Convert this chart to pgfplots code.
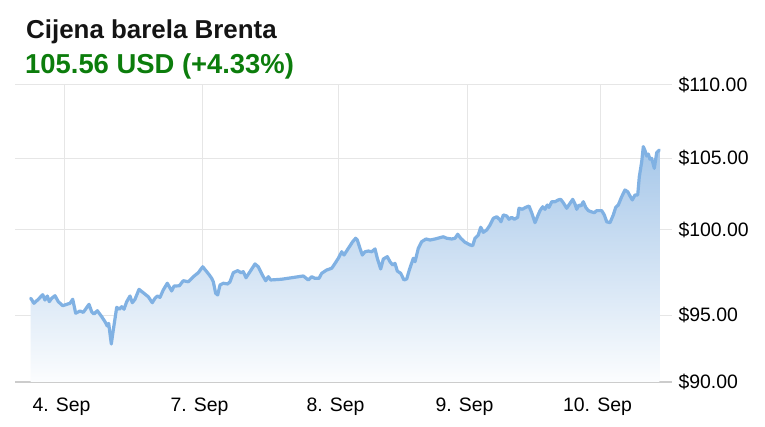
\documentclass[border=0pt]{standalone}
\usepackage{fontspec}
\setmainfont{Liberation Sans}
\usepackage{pgfplots}
\usepackage{pgfplotstable}
\pgfplotsset{compat=1.18}

\definecolor{lineblue}{RGB}{128,177,227}
\definecolor{areatop}{RGB}{166,199,233}
\definecolor{gridgray}{RGB}{230,230,230}
\definecolor{basegray}{RGB}{204,204,204}
\definecolor{pricegreen}{RGB}{12,125,12}

% x: position along the time axis, y: price (USD)
\pgfplotstableread{
x y
30.7 95.64
34.0 95.30
38.3 95.57
42.7 95.88
45.0 95.52
47.3 95.79
49.3 95.41
51.7 95.64
55.0 95.81
58.3 95.41
62.7 95.14
66.7 95.23
70.0 95.30
72.7 95.57
75.7 94.63
80.0 94.78
83.3 94.69
89.0 95.23
91.7 94.73
94.0 94.58
97.3 94.80
101.7 94.40
105.0 94.06
107.3 93.77
108.7 93.95
111.3 92.56
113.3 93.50
116.7 95.03
119.3 94.90
121.7 95.07
124.0 94.90
126.7 95.41
130.0 95.79
132.3 95.34
135.0 95.57
139.0 96.24
143.3 96.01
148.3 95.74
152.3 95.34
155.0 95.64
157.3 95.79
160.0 95.70
163.3 96.20
167.3 96.65
171.7 96.13
174.0 96.46
179.3 96.48
183.3 96.82
188.3 96.75
193.3 97.09
198.3 97.36
202.7 97.76
206.7 97.43
209.3 97.21
211.7 96.98
213.3 96.75
215.7 95.97
217.7 95.86
220.0 96.53
223.3 96.65
227.7 96.60
230.0 96.75
233.3 97.36
237.7 97.50
241.0 97.36
243.3 97.43
246.0 97.02
250.0 97.43
255.0 97.95
258.3 97.76
262.3 97.21
265.7 96.82
268.3 97.09
270.7 96.87
281.7 96.92
303.3 97.14
308.3 96.87
311.7 97.09
315.0 96.98
319.0 96.98
321.7 97.32
326.7 97.54
331.7 97.66
334.0 97.88
338.3 98.33
341.7 98.77
344.0 98.55
348.3 99.00
352.7 99.45
355.7 99.68
357.3 99.56
360.0 99.00
362.3 98.55
365.0 98.77
368.3 98.82
371.7 98.77
375.0 98.96
377.3 98.33
380.7 97.61
383.3 98.28
387.3 98.44
390.0 98.10
392.7 97.88
395.0 97.99
397.3 97.47
400.7 97.32
404.0 96.87
406.7 96.94
409.3 97.54
411.0 97.88
413.3 98.33
415.0 98.10
418.3 99.00
421.7 99.45
426.0 99.63
430.0 99.56
435.0 99.63
440.0 99.72
443.3 99.78
446.7 99.68
451.7 99.63
455.0 99.68
457.7 99.95
460.7 99.68
465.0 99.41
470.0 99.23
472.7 99.18
475.0 99.68
478.3 99.90
480.7 100.42
483.3 100.08
486.7 100.24
490.0 100.57
493.3 101.02
496.7 101.13
500.0 100.91
501.0 100.79
503.3 101.25
506.7 101.18
509.0 100.96
511.7 101.09
514.3 100.96
517.7 101.09
519.0 101.70
522.3 101.63
525.7 101.76
529.0 101.85
531.7 101.40
535.0 100.73
537.7 101.18
540.0 101.54
542.7 101.80
545.0 101.63
547.3 101.92
549.0 101.76
551.7 102.14
555.0 102.14
558.3 102.26
560.7 102.30
563.3 102.07
566.7 101.70
570.0 102.03
572.7 102.30
575.0 101.99
576.7 101.63
579.0 101.92
581.0 101.85
583.3 102.14
585.7 101.76
588.3 101.54
591.0 101.47
594.3 101.40
596.7 101.54
601.7 101.54
604.3 101.25
606.7 100.79
610.0 100.73
613.3 101.25
615.7 101.76
618.3 101.92
621.7 102.48
625.0 102.93
627.7 102.81
630.0 102.53
632.3 102.26
635.0 102.59
637.7 102.59
639.3 103.82
641.7 104.83
643.3 105.85
645.0 105.58
646.7 105.22
648.3 105.35
650.0 105.00
651.7 105.06
654.3 104.39
656.7 105.44
659.3 105.62
}\pricedata

\begin{document}
\begin{tikzpicture}[x=1bp,y=1bp]
\fill[white] (0bp,0bp) rectangle (765bp,427bp);

\begin{axis}[
    at={(15bp,45bp)}, anchor=south west,
    scale only axis,
    width=657bp, height=297bp,
    xmin=15, xmax=672,
    ymin=90, ymax=110,
    axis line style={draw=none},
    major tick length=0pt,
    xtick={64,202,338,467,600},
    xticklabels={4. Sep,7. Sep,8. Sep,9. Sep,10. Sep},
    % the reference's gridlines are not evenly spaced
    ytick={94.51,100.24,105.06,110},
    yticklabels={\$95.00,\$100.00,\$105.00,\$110.00},
    extra y ticks={90},
    extra y tick labels={\$90.00},
    extra y tick style={grid style={color=basegray, line width=1.5bp}},
    yticklabel pos=right,
    ymajorgrids, xmajorgrids,
    grid style={color=gridgray, line width=1bp},
    ticklabel style={font=\fontsize{19.5}{22}\selectfont, text=black},
    xticklabel style={yshift=-12bp, xshift=-2.5bp},
    yticklabel style={xshift=3bp},
    clip=false,
]
\addplot[draw=none, top color=areatop, bottom color=white!96!areatop] table {\pricedata} \closedcycle;
\addplot[color=lineblue, line width=3.2bp, line join=round, line cap=round] table {\pricedata};
\end{axis}

\node[anchor=base west, inner sep=0, font=\fontsize{26}{31}\selectfont\bfseries, text=black!92]
  at (26bp,388.5bp) {Cijena barela Brenta};
\node[anchor=base west, inner sep=0, font=\fontsize{27.5}{33}\selectfont\bfseries, text=pricegreen]
  at (25bp,353bp) {105.56 USD (+4.33\%)};

\pgfresetboundingbox
\useasboundingbox (0bp,0bp) rectangle (765bp,427bp);
\end{tikzpicture}
\end{document}
